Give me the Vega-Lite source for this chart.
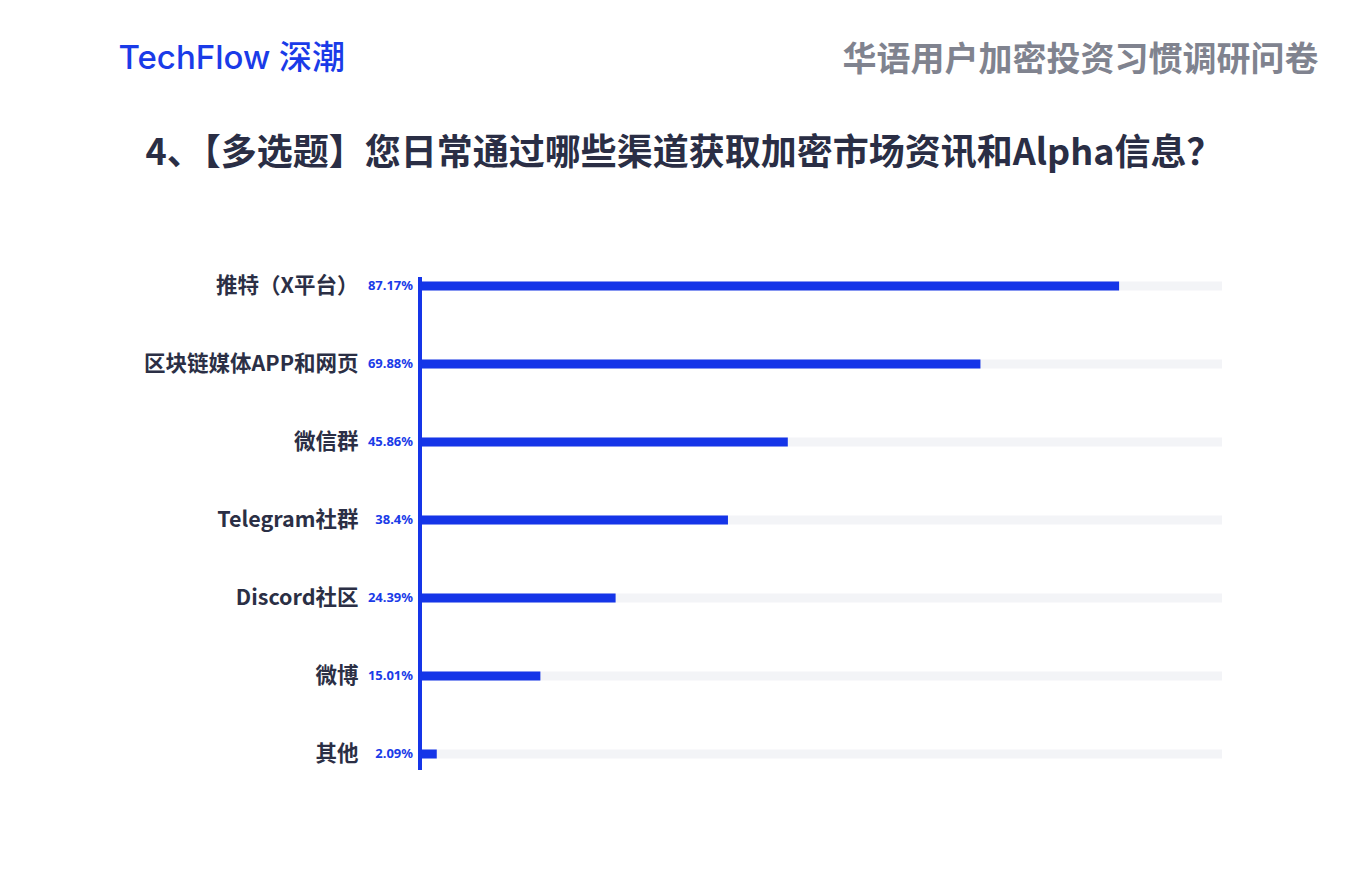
{
  "$schema": "https://vega.github.io/schema/vega-lite/v6.json",
  "width": 802,
  "height": 493,
  "autosize": {"type": "none"},
  "padding": {"left": 420, "top": 277, "right": 144, "bottom": 111},
  "background": "#ffffff",
  "config": {
    "view": {"stroke": null},
    "font": "Noto Sans CJK SC"
  },
  "data": {
    "values": [
      {"channel": "推特（X平台）", "value": 87.17, "label": "87.17%"},
      {"channel": "区块链媒体APP和网页", "value": 69.88, "label": "69.88%"},
      {"channel": "微信群", "value": 45.86, "label": "45.86%"},
      {"channel": "Telegram社群", "value": 38.4, "label": "38.4%"},
      {"channel": "Discord社区", "value": 24.39, "label": "24.39%"},
      {"channel": "微博", "value": 15.01, "label": "15.01%"},
      {"channel": "其他", "value": 2.09, "label": "2.09%"}
    ]
  },
  "resolve": {"axis": {"x": "independent"}},
  "layer": [
    {
      "mark": {"type": "bar", "size": 9, "color": "#f3f4f7"},
      "encoding": {
        "y": {
          "field": "channel",
          "type": "nominal",
          "sort": null,
          "scale": {"type": "point", "range": [9, 477], "padding": 0},
          "axis": {
            "orient": "left",
            "domain": false,
            "ticks": false,
            "grid": false,
            "labelPadding": 62,
            "labelLimit": 0,
            "labelFontSize": 21.5,
            "labelFontWeight": "bold",
            "labelColor": "#2b2f45",
            "labelFont": "Noto Sans CJK SC",
            "title": "TechFlow 深潮",
            "titleAngle": 0,
            "titleX": -302,
            "titleY": -219,
            "titleAlign": "left",
            "titleBaseline": "middle",
            "titleFontSize": 33,
            "titleFontWeight": 500,
            "titleColor": "#1a3be8",
            "titleFont": "Inter, Noto Sans CJK SC"
          }
        },
        "x": {
          "datum": 100,
          "type": "quantitative",
          "scale": {"domain": [0, 100], "nice": false, "zero": true},
          "axis": {
            "orient": "top",
            "domain": false,
            "ticks": false,
            "labels": false,
            "grid": false,
            "title": "华语用户加密投资习惯调研问卷",
            "titleX": 898,
            "titleY": -217,
            "titleAlign": "right",
            "titleBaseline": "middle",
            "titleFontSize": 34,
            "titleFontWeight": "bold",
            "titleColor": "#80838f",
            "titleFont": "Noto Sans CJK SC"
          }
        }
      }
    },
    {
      "mark": {"type": "bar", "size": 9, "color": "#1535e8"},
      "encoding": {
        "y": {"field": "channel", "type": "nominal", "sort": null},
        "x": {
          "field": "value",
          "type": "quantitative",
          "axis": {
            "orient": "bottom",
            "domain": false,
            "ticks": false,
            "labels": false,
            "grid": false,
            "title": "4、【多选题】您日常通过哪些渠道获取加密市场资讯和Alpha信息？",
            "titleX": 263.5,
            "titleY": -617,
            "titleAlign": "center",
            "titleBaseline": "middle",
            "titleFontSize": 36,
            "titleFontWeight": "bold",
            "titleColor": "#2a2e45",
            "titleFont": "Noto Sans CJK SC"
          }
        }
      }
    },
    {
      "mark": {"type": "rule", "color": "#1535e8", "strokeWidth": 3},
      "encoding": {
        "x": {"datum": 0, "type": "quantitative", "axis": null}
      }
    },
    {
      "mark": {
        "type": "text",
        "align": "right",
        "baseline": "middle",
        "dx": -7,
        "fontSize": 13,
        "fontWeight": "bold",
        "color": "#1a3be8",
        "font": "Noto Sans"
      },
      "encoding": {
        "y": {"field": "channel", "type": "nominal", "sort": null},
        "x": {"datum": 0, "type": "quantitative", "axis": null},
        "text": {"field": "label"}
      }
    }
  ]
}
